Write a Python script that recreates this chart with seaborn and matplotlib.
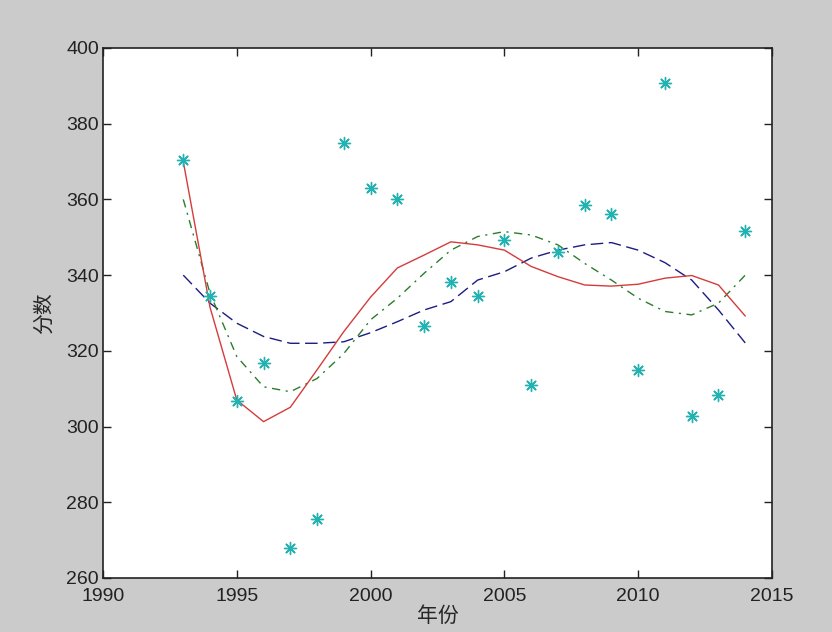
import seaborn as sns
import matplotlib
matplotlib.use('Agg')
import matplotlib.pyplot as plt
import pandas as pd

# Data
years = [1993, 1994, 1995, 1996, 1997, 1998, 1999, 2000, 2001, 2002, 2003,
         2004, 2005, 2006, 2007, 2008, 2009, 2010, 2011, 2012, 2013, 2014]
scores = [370.4, 334.5, 306.8, 316.7, 267.8, 275.5, 374.8, 363.1, 360.2, 326.6, 338.3,
          334.5, 349.3, 310.9, 346.1, 358.6, 356.2, 315.0, 390.8, 302.8, 308.4, 351.7]
fit_blue = [340.0, 332.6, 327.3, 323.8, 322.0, 322.0, 322.4, 324.8, 327.7, 330.8, 333.0,
            338.7, 340.9, 344.5, 346.6, 348.0, 348.6, 346.6, 343.3, 338.7, 330.8, 322.1]
fit_green = [360.0, 335.2, 318.5, 310.5, 309.2, 312.7, 319.3, 328.2, 333.9, 340.5, 346.6,
             350.2, 351.5, 350.6, 348.0, 343.1, 338.7, 333.9, 330.4, 329.5, 332.6, 340.0]
fit_red = [370.0, 331.5, 307.0, 301.3, 305.1, 315.0, 325.1, 334.2, 341.9, 345.3, 348.8,
           348.0, 346.6, 342.3, 339.6, 337.4, 337.1, 337.6, 339.2, 339.9, 337.4, 329.2]

df = pd.DataFrame({'year': years, 'score': scores, 'blue': fit_blue,
                   'green': fit_green, 'red': fit_red})

sns.set_style('ticks')
plt.rcParams['font.family'] = ['Liberation Sans', 'Noto Sans CJK SC', 'DejaVu Sans']

fig = plt.figure(figsize=(8.32, 6.32), dpi=100, facecolor='#cbcbcb')
ax = fig.add_axes([103 / 832, 54 / 632, 669 / 832, 530 / 632])
ax.set_facecolor('white')

# Scatter of raw scores
sns.scatterplot(x='year', y='score', data=df, ax=ax, marker=(8, 2, 0), s=75,
                color='#22b2b2', linewidth=1.0, edgecolor='#22b2b2', zorder=3, legend=False)

# Fitted curves
sns.lineplot(x='year', y='blue', data=df, ax=ax, color='#1c1c82', linewidth=1.0, zorder=2)
ax.lines[-1].set_dashes([9, 4])
sns.lineplot(x='year', y='green', data=df, ax=ax, color='#2b7d2b', linewidth=1.0, zorder=2)
ax.lines[-1].set_dashes([6, 4, 1.5, 4])
sns.lineplot(x='year', y='red', data=df, ax=ax, color='#d43c3c', linewidth=1.0, zorder=2)

# Axes setup
ax.set_xlim(1990, 2015)
ax.set_ylim(260, 400)
ax.set_xticks([1990, 1995, 2000, 2005, 2010, 2015])
ax.set_yticks([260, 280, 300, 320, 340, 360, 380, 400])
ax.tick_params(direction='in', length=6, width=1, top=True, right=True,
               labelsize=14, colors='#222222')
ax.tick_params(axis='x', pad=7)
ax.tick_params(axis='y', pad=3)
for sp in ax.spines.values():
    sp.set_visible(True)
    sp.set_linewidth(1.2)
    sp.set_color('#222222')

ax.set_xlabel('年份', fontsize=15, family=['Noto Sans CJK SC', 'DejaVu Sans'], labelpad=0)
ax.set_ylabel('分数', fontsize=15, family=['Noto Sans CJK SC', 'DejaVu Sans'], labelpad=8)

plt.savefig('out.png', dpi=100, facecolor=fig.get_facecolor())
